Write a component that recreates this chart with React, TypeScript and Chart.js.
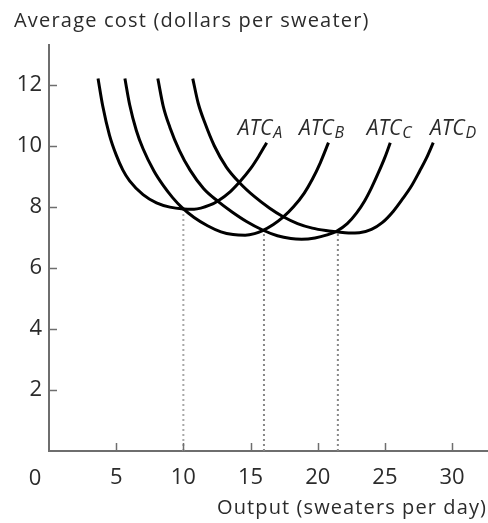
import React, { useEffect, useRef } from "react";
import { Chart, registerables } from "chart.js";

Chart.register(...registerables);

// ---- data ----
const xTickValues = [5, 10, 15, 20, 25, 30];
const yTickValues = [2, 4, 6, 8, 10, 12];

const atcAx = [3.65, 4.0, 4.5, 5.0, 5.5, 6.0, 7.0, 8.0, 9.0, 10.0, 10.8, 12.0, 12.6, 13.5, 14.2, 15.0, 15.6, 16.2];
const atcAy = [12.2, 11.3, 10.35, 9.7, 9.2, 8.85, 8.4, 8.13, 7.99, 7.93, 7.92, 8.06, 8.2, 8.5, 8.82, 9.25, 9.65, 10.1];

const atcBx = [5.65, 6.0, 6.5, 7.0, 7.8, 8.5, 9.2, 9.9, 10.8, 11.8, 12.8, 13.7, 14.6, 15.3, 15.9, 16.7, 17.4, 18.2, 19.0, 19.6, 20.2, 20.8];
const atcBy = [12.2, 11.35, 10.5, 9.9, 9.18, 8.7, 8.3, 7.97, 7.65, 7.38, 7.18, 7.09, 7.07, 7.12, 7.22, 7.42, 7.65, 8.0, 8.45, 8.9, 9.45, 10.1];

const atcCx = [8.1, 8.5, 9.0, 9.7, 10.5, 11.5, 12.6, 13.6, 14.7, 15.9, 17.0, 18.0, 18.8, 19.8, 20.7, 21.4, 22.2, 22.9, 23.5, 24.0, 24.5, 25.0, 25.4];
const atcCy = [12.2, 11.3, 10.6, 9.85, 9.2, 8.6, 8.17, 7.84, 7.52, 7.24, 7.05, 6.96, 6.94, 6.98, 7.08, 7.2, 7.45, 7.8, 8.2, 8.62, 9.1, 9.62, 10.1];

const atcDx = [10.7, 11.1, 11.6, 12.3, 13.2, 14.2, 15.3, 16.4, 17.4, 18.5, 19.6, 20.6, 21.4, 22.3, 23.1, 24.0, 24.8, 25.6, 26.3, 27.0, 27.6, 28.1, 28.6];
const atcDy = [12.2, 11.4, 10.75, 10.0, 9.3, 8.78, 8.33, 7.96, 7.68, 7.45, 7.3, 7.22, 7.18, 7.14, 7.15, 7.26, 7.48, 7.84, 8.25, 8.7, 9.18, 9.6, 10.1];

const dropX = [10, 16, 21.5];
const dropTopY = [7.95, 7.22, 7.2];

const curveSubs = ["A", "B", "C", "D"];
const curveLabelX = [14.05, 18.6, 23.65, 28.35];
const curveLabelY = 10.36;

const yTitle = "Average cost (dollars per sweater)";
const xTitle = "Output (sweaters per day)";
const originLabel = "0";

const FONT = '"Open Sans", sans-serif';
const TEXT = "#2b2b2b";
const AXIS = "#6e6e6e";

const toPts = (xs: number[], ys: number[]) => xs.map((x, i) => ({ x, y: ys[i] }));

const overlay = {
  id: "overlay",
  afterDraw(chart: any) {
    const ctx = chart.ctx as any;
    const area = chart.chartArea;
    const xs = chart.scales.x;
    const ys = chart.scales.y;
    ctx.save();
    // inward tick marks
    ctx.strokeStyle = AXIS;
    ctx.lineWidth = 1.5;
    yTickValues.forEach((v) => {
      const py = Math.round(ys.getPixelForValue(v)) + 0.5;
      ctx.beginPath();
      ctx.moveTo(area.left, py);
      ctx.lineTo(area.left + 8, py);
      ctx.stroke();
    });
    xTickValues.forEach((v) => {
      const px = Math.round(xs.getPixelForValue(v)) + 0.5;
      ctx.beginPath();
      ctx.moveTo(px, area.bottom);
      ctx.lineTo(px, area.bottom - 8);
      ctx.stroke();
    });
    // titles
    ctx.fillStyle = TEXT;
    ctx.font = `20px ${FONT}`;
    ctx.letterSpacing = "1.2px";
    ctx.textBaseline = "middle";
    ctx.textAlign = "left";
    ctx.fillText(yTitle, 14, area.top - 24);
    ctx.letterSpacing = "1.1px";
    ctx.textAlign = "right";
    ctx.fillText(xTitle, area.right, area.bottom + 57);
    ctx.letterSpacing = "0px";
    // origin label
    ctx.font = `22px ${FONT}`;
    ctx.textAlign = "center";
    ctx.fillText(originLabel, area.left - 14, area.bottom + 28);
    // curve labels
    ctx.textBaseline = "alphabetic";
    ctx.textAlign = "left";
    curveSubs.forEach((sub, i) => {
      const px = xs.getPixelForValue(curveLabelX[i]);
      const py = ys.getPixelForValue(curveLabelY);
      ctx.font = `italic 21px ${FONT}`;
      ctx.fillText("ATC", px, py);
      const w = ctx.measureText("ATC").width;
      ctx.font = `italic 16px ${FONT}`;
      ctx.fillText(sub, px + w + 1, py + 3);
    });
    ctx.restore();
  },
};

export default function App() {
  const ref = useRef<HTMLCanvasElement | null>(null);

  useEffect(() => {
    if (!ref.current) return;
    const curveStyle = {
      showLine: true,
      borderColor: "#000",
      borderWidth: 3,
      pointRadius: 0,
      fill: false,
      cubicInterpolationMode: "monotone" as const,
    };
    const curves = [
      toPts(atcAx, atcAy),
      toPts(atcBx, atcBy),
      toPts(atcCx, atcCy),
      toPts(atcDx, atcDy),
    ].map((data, i) => ({ ...curveStyle, label: "ATC" + curveSubs[i], data }));
    const drops = dropX.map((x, i) => ({
      label: "drop" + i,
      data: [
        { x, y: 0 },
        { x, y: dropTopY[i] },
      ],
      showLine: true,
      borderColor: i === 0 ? "#a8a8a8" : "#888888",
      borderWidth: 2,
      borderDash: [2, 3],
      pointRadius: 0,
      fill: false,
    }));

    const chart = new Chart(ref.current, {
      type: "scatter",
      data: { datasets: [...curves, ...drops] as any },
      options: {
        animation: false,
        responsive: false,
        events: [],
        layout: { padding: { left: 0, top: 45, right: 1, bottom: 0 } },
        plugins: { legend: { display: false }, tooltip: { enabled: false } },
        scales: {
          x: {
            type: "linear",
            min: 0,
            max: 32.6,
            grid: { display: false, drawTicks: false },
            border: { display: true, color: AXIS, width: 2 },
            ticks: {
              padding: 14,
              color: TEXT,
              font: { family: FONT, size: 22 },
              maxRotation: 0,
              autoSkip: false,
            },
            afterBuildTicks: (s: any) => {
              s.ticks = xTickValues.map((v) => ({ value: v }));
            },
            afterFit: (s: any) => {
              s.height = 72;
            },
          },
          y: {
            type: "linear",
            min: 0,
            max: 13.3,
            grid: { display: false, drawTicks: false },
            border: { display: true, color: AXIS, width: 2 },
            ticks: {
              padding: 7,
              crossAlign: "near",
              color: TEXT,
              font: { family: FONT, size: 22 },
              autoSkip: false,
            },
            afterBuildTicks: (s: any) => {
              s.ticks = yTickValues.map((v) => ({ value: v }));
            },
            afterFit: (s: any) => {
              s.width = 49;
            },
          },
        },
      },
      plugins: [overlay],
    });
    return () => chart.destroy();
  }, []);

  return (
    <div style={{ position: "absolute", left: 0, top: 0, width: 488, height: 523, background: "#fff" }}>
      <canvas ref={ref} width={488} height={523} style={{ display: "block" }} />
    </div>
  );
}
